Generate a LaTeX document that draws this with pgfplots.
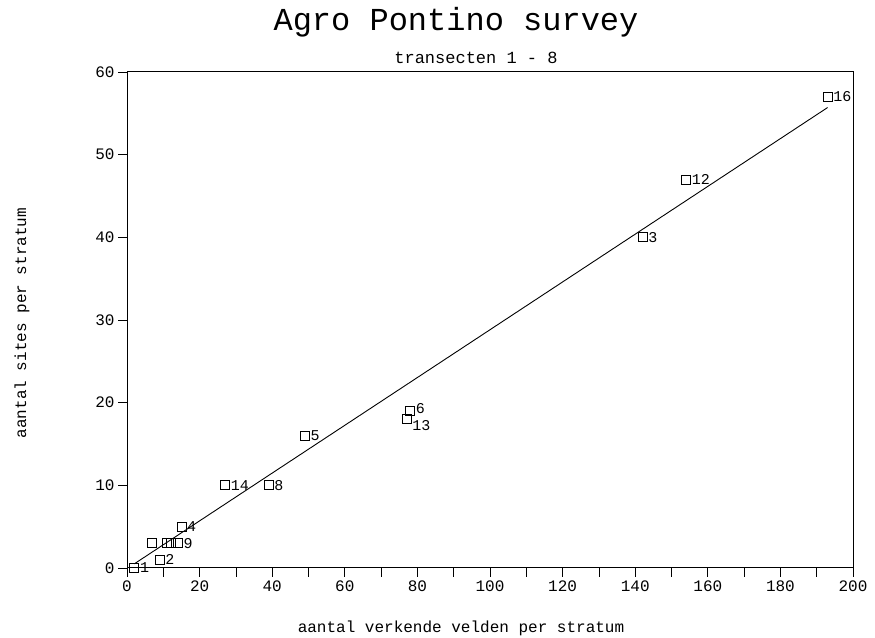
\documentclass[border=0pt]{standalone}
\usepackage{pgfplots}
\pgfplotsset{compat=1.18}
\usepackage{pgfplotstable}
\usepackage{fontspec}
\setmainfont{Liberation Mono}
\setmonofont{Liberation Mono}

% stratum data: fields surveyed vs sites found
\pgfplotstableread{
x   y   lab
2   0   1
9   1   2
7   3   {}
11  3   {}
12  3   {}
14  3   9
15  5   4
27  10  14
39  10  8
49  16  5
142 40  3
154 47  12
193 57  16
}\strata

\begin{document}
\begin{tikzpicture}[x=1pt,y=1pt]
\useasboundingbox (0,0) rectangle (875,637);
\begin{axis}[
    at={(127pt,69pt)}, anchor=south west,
    width=726pt, height=496pt, scale only axis,
    xmin=0, xmax=200,
    ymin=0, ymax=60,
    xtick={0,20,...,200},
    minor xtick={10,30,...,190},
    ytick={0,10,...,60},
    tick pos=left,
    tick align=outside,
    major tick length=9pt,
    minor tick length=9pt,
    every tick/.style={black, line width=0.8pt},
    axis line style={line width=1pt},
    tick label style={font=\fontsize{16}{16}\selectfont},
    /pgf/number format/assume math mode=true,
    clip=false,
    pts/.style={
        only marks,
        mark=square,
        mark size=4.5pt,
        mark options={line width=0.9pt, fill=white},
        nodes near coords,
        point meta=explicit symbolic,
        nodes near coords style={anchor=west, xshift=2pt,
            font=\fontsize{15}{15}\selectfont},
    },
]
\addplot[black, line width=0.9pt] coordinates {(2,0.5)(193,55.7)};
\addplot[pts] table[meta=lab] {\strata};
% strata 6 and 13 lie close together: labels nudged apart
\addplot[pts, nodes near coords style={yshift=2pt}]
    table[meta=lab] {
x   y   lab
78  19  6
};
\addplot[pts, nodes near coords style={yshift=-6pt}]
    table[meta=lab] {
x   y   lab
77  18  13
};
\end{axis}
\node at (456,615) {\fontsize{32}{32}\selectfont Agro Pontino survey};
\node at (476,579) {\fontsize{17}{17}\selectfont transecten 1 - 8};
\node at (461,9) {\fontsize{16}{16}\selectfont aantal verkende velden per stratum};
\node[rotate=90] at (22,314) {\fontsize{16}{16}\selectfont aantal sites per stratum};
\end{tikzpicture}
\end{document}
